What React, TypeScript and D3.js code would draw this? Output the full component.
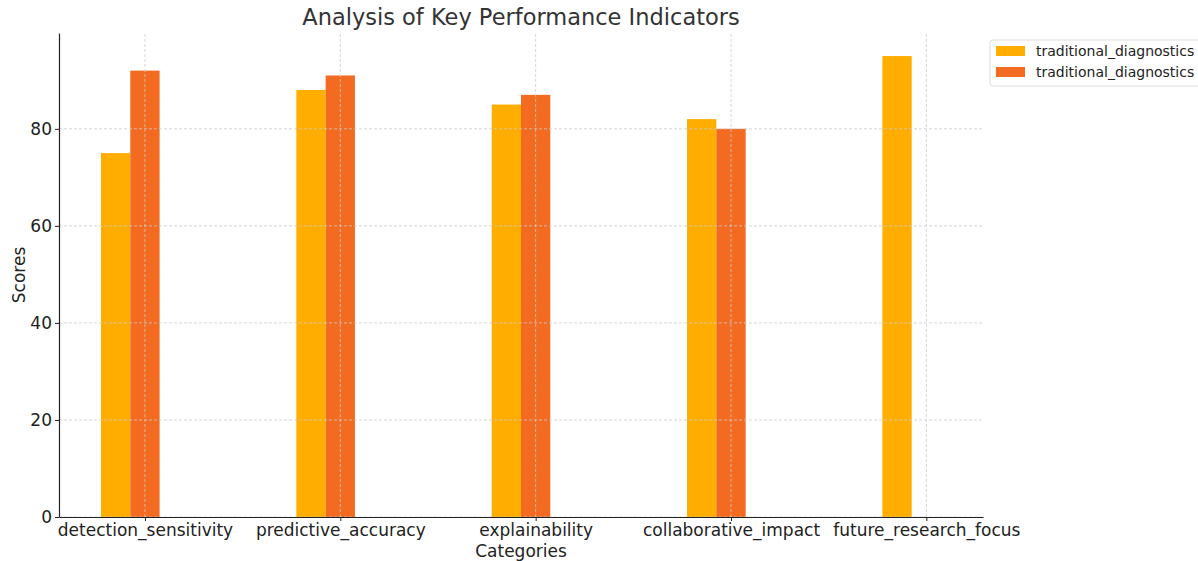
import React, { useEffect, useRef } from "react";
import * as d3 from "d3";

const categories = [
  "detection_sensitivity",
  "predictive_accuracy",
  "explainability",
  "collaborative_impact",
  "future_research_focus",
];
const seriesNames = ["traditional_diagnostics", "traditional_diagnostics"];
const seriesA = [75, 88, 85, 82, 95];
const seriesB: (number | null)[] = [92, 91, 87, 80, null];
const yTicks = [0, 20, 40, 60, 80];
const colors = ["#FFAE00", "#F26B21"];

const App = () => {
  const ref = useRef<SVGSVGElement>(null);

  useEffect(() => {
    const svg = d3.select(ref.current);
    svg.selectAll("*").remove();

    const width = 1198;
    const height = 561;
    const margin = { top: 33, right: 215, bottom: 44, left: 59 };
    const font = "DejaVu Sans, sans-serif";
    const barW = 0.15;

    const x = d3.scaleLinear().domain([-0.44, 4.29]).range([margin.left, width - margin.right]);
    const y = d3.scaleLinear().domain([0, 99.75]).range([height - margin.bottom, margin.top]);

    const g = svg.append("g");

    // bars: first series left of the tick, second centred on it
    const bars = [
      ...seriesA.map((v, i) => ({ v, i, s: 0 })),
      ...seriesB.map((v, i) => ({ v, i, s: 1 })),
    ].filter(d => d.v != null);

    g.selectAll("rect.bar")
      .data(bars)
      .join("rect")
      .attr("class", "bar")
      .attr("x", d => x(d.i - barW * (d.s === 0 ? 1.5 : 0.5)))
      .attr("width", x(barW) - x(0))
      .attr("y", d => y(d.v as number))
      .attr("height", d => y(0) - y(d.v as number))
      .attr("fill", d => colors[d.s]);

    // grid (drawn over bars)
    g.selectAll("line.hgrid")
      .data(yTicks)
      .join("line")
      .attr("x1", x.range()[0])
      .attr("x2", x.range()[1])
      .attr("y1", d => y(d))
      .attr("y2", d => y(d))
      .attr("stroke", "#cccccc")
      .attr("stroke-width", 0.8)
      .attr("stroke-dasharray", "3,2");

    g.selectAll("line.vgrid")
      .data(categories.map((_, i) => i))
      .join("line")
      .attr("x1", d => x(d))
      .attr("x2", d => x(d))
      .attr("y1", y.range()[0])
      .attr("y2", y.range()[1])
      .attr("stroke", "#cccccc")
      .attr("stroke-width", 0.8)
      .attr("stroke-dasharray", "3,2");

    // x axis
    const xAxis = d3
      .axisBottom(x)
      .tickValues(categories.map((_, i) => i))
      .tickFormat((d, i) => categories[i])
      .tickSize(4)
      .tickSizeOuter(0);
    g.append("g")
      .attr("transform", `translate(0,${y(0)})`)
      .call(xAxis)
      .call(a => a.select(".domain").attr("stroke", "#222").attr("stroke-width", 1.2))
      .call(a => a.selectAll(".tick line").attr("stroke", "#222"))
      .call(a =>
        a.selectAll("text").attr("fill", "#222").attr("font-size", 17).attr("font-family", font).attr("dy", "0.68em")
      );

    // y axis
    const yAxis = d3.axisLeft(y).tickValues(yTicks).tickSize(4).tickSizeOuter(0);
    g.append("g")
      .attr("transform", `translate(${margin.left},0)`)
      .call(yAxis)
      .call(a => a.select(".domain").attr("stroke", "#222").attr("stroke-width", 1.2))
      .call(a => a.selectAll(".tick line").attr("stroke", "#222"))
      .call(a => a.selectAll("text").attr("fill", "#222").attr("font-size", 17).attr("font-family", font));

    // title and labels
    svg.append("text")
      .attr("x", (x.range()[0] + x.range()[1]) / 2)
      .attr("y", 25)
      .attr("text-anchor", "middle")
      .attr("font-size", 22.5)
      .attr("font-family", font)
      .attr("fill", "#333")
      .text("Analysis of Key Performance Indicators");

    svg.append("text")
      .attr("x", (x.range()[0] + x.range()[1]) / 2)
      .attr("y", 557)
      .attr("text-anchor", "middle")
      .attr("font-size", 17)
      .attr("font-family", font)
      .attr("fill", "#222")
      .text("Categories");

    svg.append("text")
      .attr("transform", `translate(25,${(y.range()[0] + y.range()[1]) / 2}) rotate(-90)`)
      .attr("text-anchor", "middle")
      .attr("font-size", 17)
      .attr("font-family", font)
      .attr("fill", "#222")
      .text("Scores");

    // legend
    const lg = svg.append("g").attr("transform", "translate(990,40)");
    lg.append("rect")
      .attr("width", 220)
      .attr("height", 46)
      .attr("rx", 3)
      .attr("fill", "white")
      .attr("stroke", "#dddddd");
    seriesNames.forEach((name, i) => {
      lg.append("rect")
        .attr("x", 6)
        .attr("y", 6 + i * 21)
        .attr("width", 29)
        .attr("height", 10)
        .attr("fill", colors[i]);
      lg.append("text")
        .attr("x", 46)
        .attr("y", 11 + i * 21)
        .attr("dy", "0.35em")
        .attr("font-size", 14)
        .attr("font-family", font)
        .attr("fill", "#222")
        .text(name);
    });
  }, []);

  return <svg ref={ref} width={1198} height={561} style={{ position: "absolute", left: 0, top: 0 }} />;
};

export default App;
